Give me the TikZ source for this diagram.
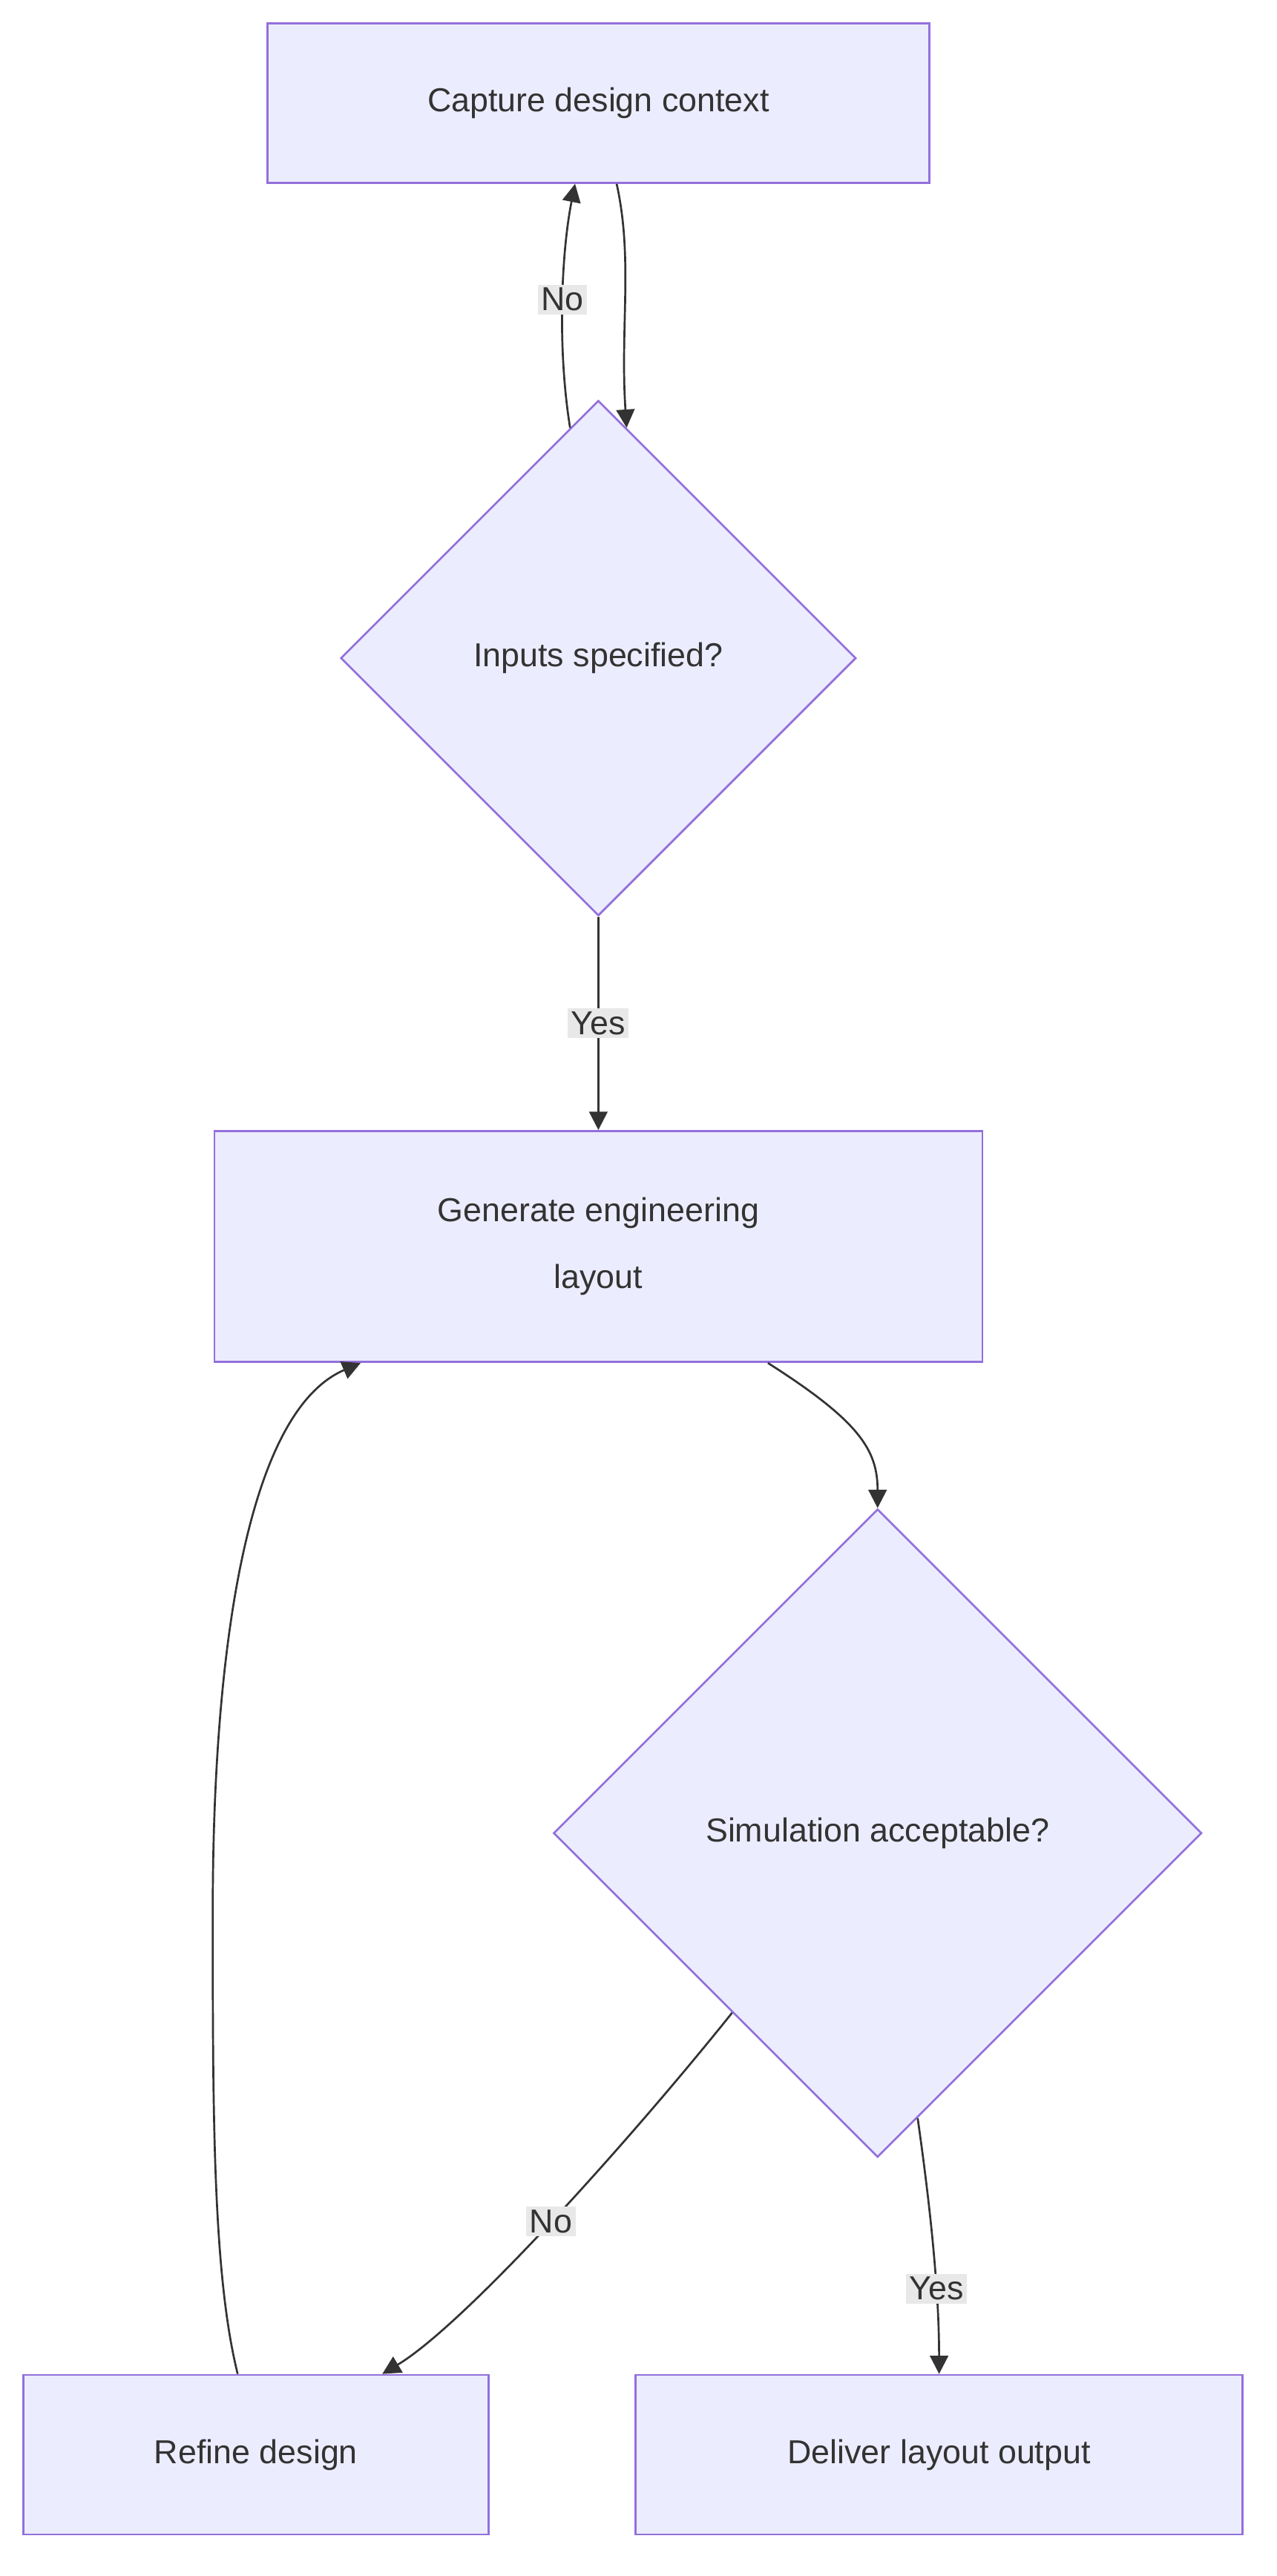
\documentclass[tikz,border=0pt]{standalone}
\usepackage{fontspec}
\setmainfont{Liberation Sans}
\usetikzlibrary{shapes.geometric,arrows.meta,positioning}
\definecolor{boxfill}{HTML}{ECECFF}
\definecolor{boxline}{HTML}{9370DB}
\definecolor{ink}{HTML}{333333}
\definecolor{lblbg}{HTML}{E8E8E8}
\tikzset{
  stage/.style={draw=boxline,fill=boxfill,line width=1.2pt,text=ink,font=\fontsize{20}{40}\selectfont,align=center},
  test/.style={stage,shape=diamond,aspect=1,inner sep=0pt},
  flow/.style={draw=ink,line width=1.2pt,-{Triangle[length=11pt,width=11pt]}},
  lbl/.style={fill=lblbg,text=ink,font=\fontsize{20}{24}\selectfont,inner sep=2pt}
}
\begin{document}
\begin{tikzpicture}[x=1pt,y=-1pt]
  \useasboundingbox (0,0) rectangle (768,1550);
  \node[stage,minimum width=398pt,minimum height=96pt] (capture) at (360,62) {Capture design context};
  \node[test,minimum width=310pt,minimum height=310pt] (inputs) at (360,396) {Inputs specified?};
  \node[stage,minimum width=462pt,minimum height=139pt] (generate) at (360,750) {Generate engineering\\layout};
  \node[test,minimum width=390pt,minimum height=390pt] (sim) at (528,1103) {Simulation acceptable?};
  \node[stage,minimum width=280pt,minimum height=96pt] (refine) at (154,1477) {Refine design};
  \node[stage,minimum width=365pt,minimum height=96pt] (deliver) at (565,1477) {Deliver layout output};

  % edges
  \draw[flow] ([xshift=11pt]capture.south) .. controls ++(10,45) and ++(-4,-60) .. (inputs.83);
  \draw[flow] (inputs.97) .. controls ++(-8,-50) and ++(-8,40) .. node[lbl] {No} ([xshift=-14pt]capture.south);
  \draw[flow] (inputs.south) -- node[lbl] {Yes} (generate.north);
  \draw[flow] ([xshift=102pt]generate.south) .. controls ++(55,35) and ++(0,-35) .. (sim.north);
  \draw[flow] (sim.231) .. controls ++(-60,75) and ++(50,-30) .. node[lbl,pos=0.5] {No} ([xshift=76pt]refine.north);
  \draw[flow] (sim.278) .. controls ++(10,70) and ++(0,-40) .. node[lbl,pos=0.6] {Yes} (deliver.north);
  \draw[flow] ([xshift=-11pt]refine.north) .. controls ++(-15,-60) and ++(0,120) .. (128,1150)
    .. controls ++(0,-150) and ++(-70,30) .. ([xshift=-143pt]generate.south);
\end{tikzpicture}
\end{document}
